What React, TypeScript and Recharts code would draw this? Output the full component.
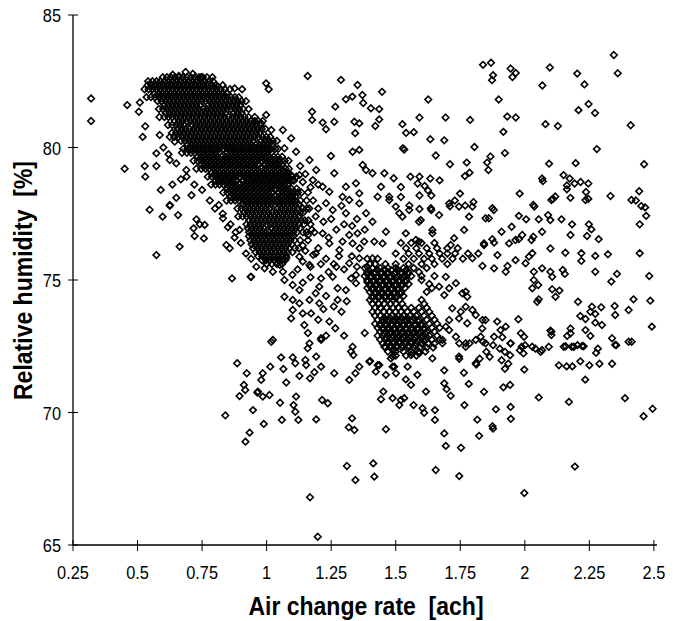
import React from "react";
import { ScatterChart, Scatter, XAxis, YAxis } from "recharts";

// axis ticks
const xTicks = [0.25, 0.5, 0.75, 1, 1.25, 1.5, 1.75, 2, 2.25, 2.5];
const yTicks = [65, 70, 75, 80, 85];

// dense diagonal band: humidity level -> air change rates read along that row
const bandRows: [number, number[]][] = [
  [82.65, [0.598, 0.614, 0.63, 0.645, 0.66, 0.676, 0.691, 0.707, 0.722, 0.738, 0.753, 0.769, 0.79]],
  [82.5, [0.541, 0.558, 0.574, 0.589, 0.605, 0.62, 0.636, 0.651, 0.667, 0.682, 0.698, 0.713, 0.729, 0.744, 0.76, 0.776, 0.792]],
  [82.35, [0.539, 0.555, 0.57, 0.586, 0.601, 0.617, 0.632, 0.648, 0.663, 0.679, 0.694, 0.71, 0.725, 0.741, 0.756, 0.772, 0.788, 0.804, 0.83]],
  [82.2, [0.527, 0.543, 0.558, 0.574, 0.589, 0.605, 0.62, 0.636, 0.651, 0.667, 0.682, 0.698, 0.713, 0.729, 0.744, 0.76, 0.775, 0.791, 0.806, 0.822, 0.838, 0.858]],
  [82.05, [0.565, 0.581, 0.596, 0.612, 0.627, 0.643, 0.658, 0.674, 0.689, 0.705, 0.72, 0.736, 0.751, 0.767, 0.782, 0.798, 0.813, 0.829, 0.845]],
  [81.9, [0.535, 0.552, 0.567, 0.583, 0.598, 0.614, 0.629, 0.645, 0.66, 0.676, 0.691, 0.707, 0.722, 0.738, 0.753, 0.769, 0.784, 0.8, 0.815, 0.831, 0.846, 0.862, 0.877, 0.892]],
  [81.75, [0.578, 0.594, 0.609, 0.625, 0.64, 0.656, 0.671, 0.687, 0.702, 0.718, 0.733, 0.749, 0.764, 0.78, 0.795, 0.811, 0.826, 0.842, 0.857, 0.873, 0.888, 0.903, 0.92]],
  [81.6, [0.603, 0.619, 0.634, 0.65, 0.665, 0.681, 0.696, 0.712, 0.727, 0.743, 0.774, 0.789, 0.805, 0.82, 0.836, 0.851, 0.867, 0.882, 0.898]],
  [81.45, [0.583, 0.599, 0.614, 0.63, 0.645, 0.661, 0.676, 0.692, 0.707, 0.723, 0.738, 0.754, 0.769, 0.785, 0.8, 0.816, 0.831, 0.847, 0.862, 0.878, 0.893, 0.909, 0.93]],
  [81.3, [0.609, 0.624, 0.64, 0.655, 0.671, 0.686, 0.702, 0.717, 0.733, 0.748, 0.764, 0.779, 0.795, 0.81, 0.826, 0.841, 0.872, 0.888, 0.903]],
  [81.15, [0.585, 0.604, 0.62, 0.635, 0.651, 0.666, 0.682, 0.697, 0.713, 0.728, 0.744, 0.759, 0.775, 0.79, 0.806, 0.821, 0.837, 0.852, 0.868, 0.883, 0.899, 0.914, 0.93, 0.954]],
  [81.0, [0.644, 0.66, 0.675, 0.691, 0.706, 0.722, 0.737, 0.753, 0.768, 0.784, 0.799, 0.815, 0.83, 0.846, 0.861, 0.877, 0.892, 0.908, 0.923, 0.939, 0.954, 0.968, 0.985]],
  [80.85, [0.618, 0.634, 0.649, 0.665, 0.68, 0.711, 0.727, 0.742, 0.758, 0.773, 0.789, 0.804, 0.82, 0.835, 0.851, 0.866, 0.882, 0.897, 0.913, 0.928, 0.944, 0.959, 0.975]],
  [80.7, [0.655, 0.671, 0.686, 0.702, 0.717, 0.733, 0.748, 0.764, 0.779, 0.795, 0.81, 0.826, 0.841, 0.857, 0.872, 0.888, 0.903, 0.919, 0.934, 0.95, 0.965, 0.981, 0.995]],
  [80.55, [0.633, 0.649, 0.664, 0.68, 0.695, 0.711, 0.726, 0.742, 0.757, 0.773, 0.788, 0.804, 0.819, 0.835, 0.85, 0.866, 0.881, 0.897, 0.912, 0.928, 0.943, 0.959, 0.974]],
  [80.4, [0.625, 0.642, 0.658, 0.673, 0.689, 0.704, 0.72, 0.735, 0.751, 0.766, 0.782, 0.797, 0.813, 0.828, 0.844, 0.859, 0.875, 0.89, 0.906, 0.921, 0.937, 0.952, 0.968, 0.983, 0.999, 1.014]],
  [80.25, [0.669, 0.684, 0.7, 0.715, 0.731, 0.746, 0.762, 0.777, 0.793, 0.808, 0.824, 0.839, 0.855, 0.87, 0.886, 0.901, 0.917, 0.932, 0.948, 0.979, 0.994, 1.01, 1.024, 1.04]],
  [80.1, [0.694, 0.71, 0.725, 0.741, 0.756, 0.772, 0.787, 0.803, 0.818, 0.834, 0.849, 0.865, 0.88, 0.896, 0.911, 0.927, 0.942, 0.958, 0.973, 0.989, 1.004, 1.02]],
  [79.95, [0.677, 0.693, 0.708, 0.724, 0.739, 0.755, 0.77, 0.786, 0.801, 0.817, 0.832, 0.848, 0.863, 0.879, 0.894, 0.91, 0.925, 0.941, 0.956, 0.972, 0.987, 1.003, 1.018, 1.034, 1.045]],
  [79.8, [0.672, 0.691, 0.707, 0.722, 0.738, 0.753, 0.769, 0.784, 0.8, 0.815, 0.846, 0.862, 0.877, 0.893, 0.908, 0.924, 0.939, 0.955, 0.97, 0.986, 1.001, 1.017]],
  [79.65, [0.733, 0.749, 0.764, 0.78, 0.795, 0.811, 0.826, 0.842, 0.857, 0.873, 0.888, 0.904, 0.919, 0.935, 0.95, 0.966, 0.981, 0.997, 1.012, 1.028, 1.043, 1.06]],
  [79.5, [0.717, 0.733, 0.748, 0.764, 0.779, 0.795, 0.81, 0.826, 0.841, 0.857, 0.872, 0.888, 0.903, 0.919, 0.934, 0.95, 0.965, 0.981, 0.996, 1.012, 1.027, 1.043, 1.058, 1.07, 1.085]],
  [79.35, [0.748, 0.763, 0.779, 0.794, 0.81, 0.825, 0.841, 0.856, 0.872, 0.887, 0.903, 0.918, 0.934, 0.949, 0.965, 0.996, 1.011, 1.027, 1.042, 1.058]],
  [79.2, [0.728, 0.747, 0.763, 0.778, 0.794, 0.809, 0.825, 0.84, 0.856, 0.871, 0.887, 0.902, 0.918, 0.933, 0.949, 0.964, 0.98, 0.995, 1.011, 1.026, 1.042, 1.057, 1.073, 1.086]],
  [79.05, [0.788, 0.804, 0.819, 0.835, 0.85, 0.866, 0.881, 0.897, 0.912, 0.928, 0.943, 0.959, 0.974, 0.99, 1.005, 1.021, 1.036, 1.052, 1.067, 1.083]],
  [78.9, [0.772, 0.788, 0.803, 0.819, 0.834, 0.85, 0.865, 0.881, 0.896, 0.912, 0.927, 0.943, 0.958, 0.974, 0.989, 1.005, 1.02, 1.036, 1.051, 1.067, 1.082, 1.1, 1.115]],
  [78.75, [0.803, 0.818, 0.834, 0.849, 0.865, 0.88, 0.911, 0.927, 0.942, 0.958, 0.973, 0.989, 1.004, 1.02, 1.035, 1.051, 1.066, 1.082, 1.097, 1.106]],
  [78.6, [0.785, 0.802, 0.818, 0.833, 0.849, 0.864, 0.88, 0.895, 0.911, 0.926, 0.942, 0.957, 0.973, 0.988, 1.004, 1.019, 1.035, 1.05, 1.066, 1.081]],
  [78.45, [0.848, 0.864, 0.879, 0.895, 0.91, 0.926, 0.941, 0.957, 0.972, 0.988, 1.003, 1.019, 1.034, 1.05, 1.065, 1.081, 1.096, 1.116]],
  [78.3, [0.832, 0.848, 0.863, 0.879, 0.894, 0.91, 0.925, 0.941, 0.956, 0.972, 0.987, 1.003, 1.018, 1.049, 1.065, 1.08, 1.096, 1.111, 1.121, 1.135]],
  [78.15, [0.863, 0.878, 0.894, 0.909, 0.925, 0.94, 0.956, 0.971, 0.987, 1.002, 1.018, 1.033, 1.049, 1.064, 1.08, 1.095, 1.111]],
  [78.0, [0.845, 0.862, 0.878, 0.893, 0.909, 0.924, 0.94, 0.955, 0.971, 0.986, 1.002, 1.017, 1.033, 1.048, 1.064, 1.079, 1.095, 1.11, 1.131]],
  [77.85, [0.908, 0.924, 0.939, 0.955, 0.97, 0.986, 1.001, 1.017, 1.032, 1.048, 1.063, 1.079, 1.094, 1.11, 1.125]],
  [77.7, [0.887, 0.903, 0.918, 0.934, 0.949, 0.965, 0.98, 0.996, 1.011, 1.042, 1.058, 1.073, 1.089, 1.104, 1.12, 1.14, 1.155]],
  [77.55, [0.913, 0.928, 0.944, 0.959, 0.975, 0.99, 1.006, 1.021, 1.037, 1.052, 1.068, 1.083, 1.099, 1.114, 1.13, 1.142]],
  [77.4, [0.89, 0.907, 0.923, 0.938, 0.954, 0.969, 0.985, 1.0, 1.016, 1.031, 1.047, 1.062, 1.078, 1.093, 1.109, 1.124]],
  [77.25, [0.933, 0.948, 0.964, 0.979, 0.995, 1.01, 1.026, 1.041, 1.057, 1.072, 1.088, 1.103, 1.119, 1.134, 1.148, 1.162]],
  [77.1, [0.922, 0.938, 0.953, 0.969, 0.984, 1.0, 1.015, 1.031, 1.046, 1.062, 1.077, 1.093, 1.108, 1.124, 1.145]],
  [76.95, [0.927, 0.943, 0.958, 0.974, 0.989, 1.02, 1.036, 1.051, 1.067, 1.082, 1.098, 1.113, 1.129]],
  [76.8, [0.932, 0.948, 0.963, 0.979, 0.994, 1.01, 1.025, 1.041, 1.056, 1.072, 1.087, 1.103, 1.118, 1.14, 1.155]],
  [76.65, [0.932, 0.948, 0.963, 0.979, 0.994, 1.01, 1.025, 1.041, 1.056, 1.072, 1.087, 1.103]],
  [76.5, [0.937, 0.953, 0.968, 0.984, 0.999, 1.015, 1.03, 1.046, 1.061, 1.077, 1.092, 1.108, 1.13]],
  [76.35, [0.942, 0.958, 0.973, 0.989, 1.004, 1.02, 1.035, 1.051, 1.066, 1.082, 1.097]],
  [76.2, [0.947, 0.963, 0.978, 0.994, 1.009, 1.025, 1.04, 1.056, 1.071, 1.087, 1.11, 1.125]],
  [76.05, [0.957, 0.973, 0.988, 1.004, 1.019, 1.035, 1.05, 1.066, 1.081, 1.1]],
  [75.9, [0.967, 0.983, 0.998, 1.014, 1.029, 1.045, 1.06, 1.076]],
  [75.75, [0.982, 0.998, 1.013, 1.029, 1.044, 1.06, 1.072]],
  [75.6, [1.0, 1.02, 1.04, 1.06]],
];

// second cluster around 1.4 - 1.7 ach
const clusterRows: [number, number[]][] = [
  [76.4, [1.52, 1.56, 1.6, 1.65]],
  [76.2, [1.54, 1.58, 1.62, 1.66, 1.7, 1.74]],
  [76.0, [1.5, 1.55, 1.59, 1.63, 1.67, 1.7, 1.73, 1.78, 1.82]],
  [75.8, [1.39, 1.43, 1.53, 1.57, 1.61, 1.64, 1.68, 1.72, 1.76]],
  [75.6, [1.4, 1.42, 1.46, 1.5, 1.55, 1.6, 1.65, 1.7]],
  [75.45, [1.38, 1.41, 1.44, 1.47, 1.5, 1.53, 1.57, 1.62]],
  [75.375, [1.395, 1.43, 1.458, 1.485, 1.51, 1.54]],
  [75.3, [1.39, 1.42, 1.445, 1.47, 1.5, 1.52, 1.55, 1.59]],
  [75.225, [1.39, 1.418, 1.443, 1.468, 1.495, 1.522, 1.548]],
  [75.15, [1.38, 1.405, 1.43, 1.455, 1.48, 1.51, 1.535, 1.56, 1.6, 1.65]],
  [75.075, [1.403, 1.428, 1.453, 1.478, 1.503, 1.528]],
  [75.0, [1.39, 1.415, 1.44, 1.465, 1.49, 1.515, 1.54, 1.6]],
  [74.925, [1.39, 1.413, 1.438, 1.463, 1.488, 1.513, 1.538]],
  [74.85, [1.4, 1.425, 1.45, 1.475, 1.5, 1.525, 1.55, 1.63]],
  [74.775, [1.4, 1.423, 1.448, 1.473, 1.498, 1.523]],
  [74.7, [1.39, 1.41, 1.435, 1.46, 1.485, 1.51, 1.535, 1.64]],
  [74.625, [1.41, 1.433, 1.458, 1.483, 1.508]],
  [74.55, [1.4, 1.42, 1.445, 1.47, 1.495, 1.52, 1.62]],
  [74.475, [1.42, 1.448, 1.47, 1.493, 1.518]],
  [74.4, [1.41, 1.435, 1.46, 1.48, 1.505, 1.53]],
  [74.325, [1.41, 1.433, 1.458, 1.48, 1.5]],
  [74.25, [1.4, 1.42, 1.445, 1.47, 1.49, 1.515, 1.6]],
  [74.1, [1.41, 1.435, 1.455, 1.48, 1.5, 1.525, 1.61]],
  [73.95, [1.42, 1.44, 1.465, 1.49, 1.51, 1.535, 1.56, 1.59, 1.62]],
  [73.8, [1.41, 1.43, 1.455, 1.475, 1.5, 1.52, 1.545, 1.57, 1.6, 1.63]],
  [73.65, [1.42, 1.44, 1.465, 1.485, 1.51, 1.53, 1.555, 1.58, 1.61, 1.64]],
  [73.575, [1.455, 1.478, 1.5, 1.522, 1.545, 1.57]],
  [73.5, [1.43, 1.45, 1.475, 1.495, 1.52, 1.54, 1.565, 1.59, 1.62, 1.65]],
  [73.425, [1.45, 1.472, 1.495, 1.517, 1.54, 1.562, 1.588]],
  [73.35, [1.42, 1.44, 1.46, 1.485, 1.505, 1.53, 1.55, 1.575, 1.6, 1.63, 1.66]],
  [73.275, [1.44, 1.462, 1.485, 1.507, 1.53, 1.552, 1.575, 1.6]],
  [73.2, [1.43, 1.45, 1.47, 1.495, 1.515, 1.54, 1.56, 1.585, 1.61, 1.64, 1.67]],
  [73.125, [1.45, 1.472, 1.495, 1.517, 1.54, 1.563, 1.585, 1.61]],
  [73.05, [1.44, 1.46, 1.48, 1.505, 1.525, 1.55, 1.57, 1.595, 1.62, 1.65]],
  [72.975, [1.455, 1.478, 1.5, 1.523, 1.545, 1.568, 1.59, 1.615]],
  [72.9, [1.43, 1.45, 1.47, 1.49, 1.515, 1.535, 1.56, 1.58, 1.605, 1.63, 1.66]],
  [72.825, [1.462, 1.485, 1.508, 1.53, 1.553, 1.575, 1.598, 1.622]],
  [72.75, [1.44, 1.46, 1.48, 1.5, 1.525, 1.545, 1.57, 1.59, 1.615, 1.64, 1.67]],
  [72.675, [1.47, 1.492, 1.515, 1.538, 1.56, 1.585, 1.61]],
  [72.6, [1.45, 1.47, 1.49, 1.515, 1.535, 1.56, 1.58, 1.6, 1.625, 1.65]],
  [72.525, [1.48, 1.505, 1.528, 1.55, 1.575]],
  [72.45, [1.46, 1.48, 1.505, 1.525, 1.55, 1.57, 1.595, 1.62, 1.645]],
  [72.3, [1.47, 1.5, 1.53, 1.56, 1.59, 1.615]],
  [72.15, [1.5, 1.54, 1.58]],
];

// low ventilation side, left of the band
const leftPoints: [number, number][] = [
  [0.32, 81.85], [0.32, 81.0], [0.46, 81.6], [0.45, 79.2], [0.53, 80.8], [0.52, 80.4],
  [0.528, 79.3], [0.53, 78.9], [0.573, 79.3], [0.59, 78.4], [0.635, 78.6], [0.65, 78.1],
  [0.668, 78.8], [0.709, 78.2], [0.625, 77.8], [0.547, 77.65], [0.597, 77.39], [0.625, 77.83],
  [0.657, 77.45], [0.728, 77.29], [0.76, 77.08], [0.741, 77.1], [0.717, 76.95], [0.721, 76.66],
  [0.757, 76.57], [0.663, 76.26], [0.573, 75.94], [0.831, 77.33], [0.815, 77.83], [0.85, 76.99],
  [0.876, 76.6], [0.844, 76.32], [0.857, 76.2], [0.866, 75.06], [0.938, 75.12], [0.96, 75.5],
  [0.895, 76.89], [0.505, 81.35], [0.509, 81.7], [0.644, 80.22], [0.586, 80.47], [0.573, 79.78],
  [0.625, 79.53], [0.689, 79.15], [0.6, 80.0], [0.62, 79.75], [0.65, 79.4], [0.69, 78.9],
  [0.72, 78.6], [0.75, 78.4], [0.78, 78.0], [0.8, 77.7], [0.83, 77.5], [0.86, 77.1],
  [0.88, 76.8], [0.9, 76.4], [0.92, 76.0], [0.94, 75.8], [0.636, 82.75], [0.66, 82.7],
  [0.686, 82.85], [0.714, 82.78], [0.747, 82.65],
];

// upper sparse area above and right of the band
const upperPoints: [number, number][] = [
  [1.159, 82.7], [1.288, 82.55], [1.352, 82.36], [1.447, 82.1], [1.371, 81.98], [1.307, 81.82],
  [1.332, 81.92], [1.374, 81.68], [1.404, 81.48], [1.436, 81.45], [1.266, 81.54], [1.176, 81.35],
  [1.176, 81.04], [1.217, 80.94], [1.23, 80.69], [1.262, 80.97], [1.34, 80.97], [1.359, 80.91],
  [1.421, 80.81], [1.436, 81.06], [1.343, 80.54], [1.333, 79.84], [1.359, 79.91], [1.249, 79.68],
  [0.998, 82.42], [1.008, 82.2], [0.905, 82.2], [0.876, 82.23], [0.811, 82.3], [0.747, 82.65],
  [0.998, 81.23], [0.979, 80.91], [1.018, 80.66], [1.063, 80.66], [1.095, 80.35], [1.069, 79.97],
  [1.114, 79.84], [1.166, 79.53], [1.192, 79.15], [1.262, 79.03], [1.372, 79.34], [1.385, 79.15],
  [1.41, 79.03], [1.456, 79.03], [1.492, 78.84], [1.443, 78.52], [1.43, 78.14], [1.475, 78.14],
  [1.5, 77.77], [1.307, 78.52], [1.346, 78.65], [1.359, 78.27], [1.294, 78.14], [1.243, 78.33],
  [1.217, 78.52], [1.179, 78.77], [1.127, 78.96], [1.095, 78.96], [1.13, 79.3], [1.15, 79.0],
  [1.14, 78.7], [1.17, 78.5], [1.155, 78.0],
];

// middle zone between the two clusters
const middlePoints: [number, number][] = [
  [0.94, 75.12], [1.024, 75.31], [0.992, 75.44], [1.063, 75.31], [1.069, 75.0], [1.101, 74.81],
  [1.127, 74.62], [1.069, 74.37], [1.101, 74.25], [1.127, 74.12], [1.101, 73.87], [1.095, 73.55],
  [1.14, 73.74], [1.166, 74.25], [1.204, 74.12], [1.172, 73.74], [1.146, 73.3], [1.243, 73.43],
  [1.266, 73.18], [1.275, 74.25], [1.307, 74.62], [1.204, 74.75], [1.211, 75.06], [1.256, 75.12],
  [1.166, 75.57], [1.17, 75.5], [1.127, 75.88], [1.076, 75.82], [1.051, 75.57], [1.024, 72.74],
  [1.211, 72.8], [1.333, 72.48], [1.166, 72.61], [1.243, 76.38], [1.282, 76.13], [1.294, 76.45],
  [1.333, 76.38], [1.331, 77.04], [1.352, 76.76], [1.217, 76.76], [1.256, 77.64], [1.307, 77.52],
  [1.32, 78.02], [1.359, 77.89], [1.385, 77.52], [1.41, 77.2], [1.378, 76.45], [1.417, 76.45],
  [1.359, 75.82], [1.41, 75.82], [1.32, 75.63], [1.346, 75.19], [1.346, 74.88], [1.275, 74.69],
  [1.462, 76.82], [1.449, 76.38], [1.475, 78.02], [1.514, 77.52], [1.526, 77.39], [1.552, 77.64],
  [1.539, 76.76], [1.578, 76.51], [1.636, 77.71], [1.668, 77.45], [1.597, 77.26], [1.642, 76.89],
  [1.16, 78.3], [1.18, 78.0], [1.165, 77.7], [1.19, 77.4], [1.17, 77.1], [1.185, 76.8],
  [1.16, 76.5], [1.2, 76.2], [1.15, 76.1], [1.2, 78.6], [1.23, 77.9], [1.22, 77.2], [1.24, 76.6],
  [1.25, 77.3], [1.27, 76.9], [1.29, 77.8], [1.3, 77.1], [1.32, 76.7], [1.35, 77.3], [1.28, 75.9],
  [1.3, 75.4], [1.33, 75.9], [1.26, 75.6], [1.23, 75.8], [1.38, 76.9], [1.36, 76.2], [1.39, 75.5],
  [1.2, 77.7], [1.175, 76.9], [1.16, 76.7], [1.19, 76.0], [1.14, 75.7], [1.12, 75.4], [1.1, 75.2],
  [1.59, 77.2], [1.642, 76.76], [1.59, 76.45], [1.842, 76.32], [1.327, 75.06], [1.668, 74.75],
  [1.771, 74.56], [1.848, 73.49], [1.752, 73.8], [1.707, 73.11], [1.771, 72.48], [1.81, 72.74],
  [1.848, 72.61], [1.745, 72.11], [1.81, 71.86], [1.398, 71.92], [1.436, 71.79], [1.488, 71.73],
  [1.488, 72.11], [1.559, 72.17], [1.59, 72.23], [1.642, 72.04], [1.14, 76.3], [1.18, 75.95],
  [1.21, 75.6], [1.24, 75.3], [1.17, 75.1], [1.14, 74.9], [1.19, 74.5], [1.23, 74.4], [1.26, 74.0],
  [1.22, 73.9], [1.29, 73.8], [1.31, 74.2], [1.27, 75.5], [1.35, 75.5], [1.2, 73.5], [1.16, 73.0],
  [1.23, 72.9], [1.3, 72.9], [1.38, 73.0],
];

// high ventilation side, upper right
const rightUpperPoints: [number, number][] = [
  [1.838, 83.12], [1.869, 83.2], [1.945, 82.98], [1.965, 82.81], [1.877, 82.73], [1.873, 82.54],
  [1.952, 82.66], [2.097, 83.02], [2.203, 82.79], [2.36, 82.8], [2.345, 83.49], [2.068, 82.34],
  [2.231, 82.38], [1.626, 81.81], [1.899, 81.81], [2.247, 81.64], [2.208, 81.41], [2.272, 81.3],
  [1.592, 81.13], [1.693, 81.13], [1.788, 81.04], [1.932, 81.17], [1.965, 81.13], [2.08, 80.88],
  [2.128, 80.81], [2.41, 80.84], [1.526, 80.88], [1.54, 80.55], [1.57, 80.58], [1.917, 80.59],
  [1.634, 80.31], [1.688, 80.27], [1.533, 79.92], [1.528, 79.97], [1.805, 80.02], [2.279, 79.94],
  [1.655, 79.7], [1.923, 79.79], [1.867, 79.66], [1.71, 79.37], [1.775, 79.43], [1.854, 79.43],
  [1.859, 79.15], [1.786, 79.05], [1.768, 78.92], [2.094, 79.39], [2.197, 79.41], [2.462, 79.37],
  [1.557, 78.9], [1.592, 78.9], [1.634, 78.83], [1.67, 78.76], [1.585, 78.64], [1.612, 78.55],
  [1.625, 78.38], [1.638, 78.19], [1.592, 78.19], [1.52, 78.51], [1.52, 78.13], [1.553, 77.81],
  [2.067, 78.83], [2.07, 78.73], [2.15, 78.96], [2.174, 78.83], [2.163, 78.57], [2.193, 78.64],
  [2.216, 78.7], [2.246, 78.64], [2.163, 78.42], [2.237, 78.32], [2.177, 78.1], [2.246, 78.06],
  [2.332, 78.17], [2.443, 78.35], [2.43, 78.0], [2.466, 77.74], [1.98, 78.26], [2.037, 77.77],
  [2.109, 78.06], [2.118, 78.15], [1.71, 77.78], [1.729, 78.0], [1.749, 78.26], [1.769, 77.81],
  [1.801, 77.94], [1.88, 77.64], [1.638, 77.64], [1.592, 77.68],
];

// high ventilation side, middle right
const rightMidPoints: [number, number][] = [
  [1.707, 77.89], [1.745, 77.77], [1.797, 77.77], [1.874, 77.71], [2.033, 77.83], [2.103, 78.02],
  [2.235, 78.02], [2.413, 78.02], [2.451, 77.79], [2.47, 77.42], [2.445, 77.1], [1.784, 77.39],
  [1.848, 77.33], [1.861, 77.33], [1.977, 77.42], [2.005, 77.29], [2.054, 77.29], [2.09, 77.45],
  [2.099, 77.26], [2.142, 77.29], [2.183, 77.1], [2.248, 77.1], [2.258, 76.91], [2.241, 76.66],
  [2.286, 76.54], [2.177, 76.7], [2.067, 76.82], [2.033, 76.63], [2.026, 76.51], [1.99, 76.7],
  [1.977, 76.54], [1.949, 77.01], [1.91, 76.82], [1.874, 76.54], [1.881, 76.41], [1.939, 76.38],
  [1.964, 76.51], [1.842, 76.38], [1.765, 76.89], [1.726, 76.58], [1.713, 76.32], [2.099, 76.19],
  [2.157, 76.03], [2.219, 76.01], [2.219, 75.72], [2.273, 75.91], [2.322, 75.97], [2.445, 76.01],
  [2.029, 76.01], [2.016, 75.88], [1.964, 75.75], [2.003, 75.63], [1.894, 75.94], [1.836, 75.53],
  [1.797, 75.82], [1.881, 75.44], [1.933, 75.53], [1.926, 75.31], [2.035, 75.31], [2.067, 75.44],
  [2.099, 75.31], [2.106, 75.12], [2.147, 75.38], [2.155, 75.23], [2.273, 75.31], [2.335, 74.94],
  [2.357, 75.23], [2.482, 75.15], [2.035, 75.0], [2.029, 74.69], [2.052, 74.81], [2.106, 74.65],
  [2.134, 74.6], [2.119, 74.37], [2.054, 74.27], [2.048, 74.18], [2.206, 74.18], [2.26, 73.99],
  [2.296, 73.97], [2.348, 74.02], [2.35, 73.68], [2.402, 73.87], [2.421, 74.27], [2.486, 74.22],
  [2.492, 73.24], [2.254, 73.8], [2.273, 73.72], [2.215, 73.64], [2.235, 73.53], [2.299, 73.3],
  [2.273, 73.39], [2.177, 73.17], [2.177, 72.99], [2.164, 72.89], [2.099, 73.09], [2.103, 73.05],
  [2.103, 72.92], [2.235, 73.11], [2.254, 72.89], [2.151, 72.48], [2.19, 72.48], [2.222, 72.51],
  [2.338, 72.8], [2.35, 72.55], [2.402, 72.67], [1.975, 73.52], [1.985, 72.99], [1.997, 72.86],
  [1.926, 73.24], [1.906, 73.11], [1.893, 73.43], [1.835, 73.17], [1.829, 72.86], [1.881, 72.86],
  [1.913, 72.84], [1.945, 72.61], [1.988, 72.48], [2.029, 72.48], [2.093, 72.48], [1.797, 73.87],
  [1.81, 73.68], [1.771, 73.99], [1.777, 74.37], [1.758, 74.5], [1.707, 74.69], [1.733, 74.88],
  [1.694, 75.12], [1.688, 74.43], [1.719, 73.93], [1.707, 73.49], [1.745, 73.55], [1.777, 73.37],
  [1.694, 73.24], [1.733, 72.86], [1.771, 72.61], [1.836, 73.49], [1.681, 72.74],
];

// lower part of the plot
const lowerPoints: [number, number][] = [
  [1.681, 72.61], [1.746, 72.61], [1.786, 72.61], [1.838, 72.67], [1.877, 72.54], [1.903, 72.41],
  [1.923, 72.29], [1.943, 72.16], [1.945, 72.61], [1.91, 71.97], [1.936, 71.84], [1.923, 71.65],
  [1.864, 72.1], [1.825, 72.03], [1.812, 71.81], [1.851, 72.29], [1.981, 72.35], [2.001, 72.54],
  [1.995, 72.23], [2.041, 72.41], [2.061, 72.29], [2.067, 72.35], [1.998, 71.62], [2.158, 72.5],
  [2.182, 72.48], [2.204, 72.54], [2.228, 72.5], [2.276, 72.25], [2.283, 72.41], [2.354, 72.54],
  [2.414, 72.67], [2.132, 71.78], [2.162, 71.74], [2.184, 71.74], [2.215, 71.93], [2.25, 71.78],
  [2.289, 71.84], [2.338, 71.84], [2.234, 71.24], [1.746, 72.03], [1.688, 71.59], [1.764, 71.5],
  [1.783, 71.08], [1.688, 71.1], [1.697, 70.88], [1.713, 70.63], [1.842, 70.78], [1.917, 70.95],
  [1.943, 71.04], [2.054, 70.57], [1.766, 70.28], [1.888, 70.12], [1.945, 70.21], [1.946, 69.76],
  [1.816, 69.73], [1.875, 69.48], [1.877, 69.39], [1.823, 69.12], [2.171, 70.4], [2.388, 70.54],
  [2.46, 69.86], [2.495, 70.14], [1.753, 68.67], [2.194, 67.96], [1.746, 67.6], [1.998, 66.96],
  [1.018, 72.67], [1.211, 72.74], [1.159, 72.42], [1.056, 72.08], [1.101, 72.08], [1.111, 71.86],
  [1.15, 71.98], [1.153, 71.79], [1.192, 72.11], [1.211, 71.73], [1.014, 71.73], [1.065, 71.64],
  [0.985, 71.48], [0.979, 71.23], [1.076, 71.13], [1.127, 71.38], [1.168, 71.29], [1.185, 71.52],
  [1.262, 71.48], [0.966, 70.79], [0.985, 70.6], [1.011, 70.66], [1.052, 70.37], [1.114, 70.6],
  [1.104, 70.28], [1.111, 70.03], [1.123, 69.72], [1.059, 69.72], [0.947, 70.09], [0.989, 69.57],
  [1.192, 69.74], [1.215, 70.47], [1.237, 70.35], [0.934, 69.24], [1.327, 72.3], [1.336, 72.17],
  [1.359, 71.73], [1.344, 71.48], [1.32, 71.23], [1.401, 71.94], [1.43, 71.79], [1.423, 71.54],
  [1.456, 72.48], [1.488, 72.36], [1.481, 72.04], [1.494, 71.73], [1.501, 71.48], [1.462, 71.42],
  [1.546, 71.73], [1.565, 72.23], [1.584, 71.42], [1.539, 71.25], [1.559, 71.04], [1.452, 70.79],
  [1.443, 70.5], [1.488, 70.54], [1.514, 70.28], [1.52, 70.47], [1.533, 70.54], [1.569, 70.28],
  [1.617, 70.79], [1.604, 70.16], [1.61, 69.99], [1.652, 70.09], [1.652, 69.72], [1.688, 69.21],
  [1.694, 68.74], [1.331, 69.78], [1.318, 69.44], [1.34, 69.34], [1.462, 69.37], [1.311, 67.98],
  [1.344, 67.45], [1.413, 68.08], [1.417, 67.58], [1.655, 67.83], [1.168, 66.8], [1.198, 65.31],
  [0.886, 71.86], [0.923, 71.48], [0.912, 71.04], [0.917, 70.85], [0.895, 70.62], [0.964, 70.75],
  [0.84, 69.89], [0.918, 68.9],
];

const fromRows = (rows: [number, number[]][]) =>
  rows.flatMap(([y, xs]) => xs.map((x) => ({ x, y })));
const fromPairs = (pairs: [number, number][]) => pairs.map(([x, y]) => ({ x, y }));

const points = [
  ...fromRows(bandRows),
  ...fromRows(clusterRows),
  ...fromPairs(leftPoints),
  ...fromPairs(upperPoints),
  ...fromPairs(middlePoints),
  ...fromPairs(rightUpperPoints),
  ...fromPairs(rightMidPoints),
  ...fromPairs(lowerPoints),
];

const FONT = "'Liberation Sans', Arial, Helvetica, sans-serif";
const PLOT_LEFT = 73;
const PLOT_BOTTOM = 545;

const Diamond = (props: any) => {
  const { cx, cy } = props;
  const r = 3.3;
  return (
    <path
      d={`M${cx},${cy - r}L${cx + r},${cy}L${cx},${cy + r}L${cx - r},${cy}Z`}
      fill="none"
      stroke="#000"
      strokeWidth={1.6}
    />
  );
};

const XTick = (props: any) => {
  const { x, payload } = props;
  return (
    <g>
      <line x1={x} x2={x} y1={PLOT_BOTTOM - 5} y2={PLOT_BOTTOM + 6} stroke="#000" strokeWidth={1} />
      <g transform={`translate(${x},${PLOT_BOTTOM + 34})`}>
        <text x={0} y={0} textAnchor="middle" fontSize={19} fontFamily={FONT} fill="#000" transform="scale(0.86,1)">
          {String(payload.value)}
        </text>
      </g>
    </g>
  );
};

const YTick = (props: any) => {
  const { y, payload } = props;
  return (
    <g>
      <line x1={PLOT_LEFT - 5} x2={PLOT_LEFT + 5} y1={y} y2={y} stroke="#000" strokeWidth={1} />
      <g transform={`translate(${PLOT_LEFT - 12},${y + 7})`}>
        <text x={0} y={0} textAnchor="end" fontSize={19} fontFamily={FONT} fill="#000" transform="scale(0.86,1)">
          {String(payload.value)}
        </text>
      </g>
    </g>
  );
};

export default function App() {
  return (
    <div style={{ position: "relative", width: 674, height: 621, margin: "-8px 0 0 -8px" }}>
      <ScatterChart width={674} height={621} margin={{ top: 15, right: 17, bottom: 0, left: 0 }}>
        <XAxis
          type="number"
          dataKey="x"
          domain={[0.25, 2.512]}
          ticks={xTicks}
          interval={0}
          allowDataOverflow
          height={76}
          tickLine={false}
          axisLine={{ stroke: "#000", strokeWidth: 1.3 }}
          tick={<XTick />}
        />
        <YAxis
          type="number"
          dataKey="y"
          domain={[65, 85]}
          ticks={yTicks}
          interval={0}
          allowDataOverflow
          width={73}
          tickLine={false}
          axisLine={{ stroke: "#000", strokeWidth: 1.3 }}
          tick={<YTick />}
        />
        <XAxis
          xAxisId="top"
          orientation="top"
          type="number"
          domain={[0.25, 2.512]}
          height={0}
          tick={false}
          tickLine={false}
          axisLine={{ stroke: "#000", strokeWidth: 1.3 }}
        />
        <YAxis
          yAxisId="right"
          orientation="right"
          type="number"
          domain={[65, 85]}
          width={0}
          tick={false}
          tickLine={false}
          axisLine={{ stroke: "#000", strokeWidth: 1.3 }}
        />
        <Scatter data={points} shape={<Diamond />} isAnimationActive={false} />
      </ScatterChart>
      <div
        style={{
          position: "absolute",
          left: 166,
          top: 594,
          width: 400,
          textAlign: "center",
          fontFamily: FONT,
          fontWeight: "bold",
          fontSize: 25,
          lineHeight: "25px",
          whiteSpace: "pre",
          transform: "scaleX(0.92)",
        }}
      >
        Air change rate  [ach]
      </div>
      <div
        style={{
          position: "absolute",
          left: 23 - 150,
          top: 280 - 12,
          width: 300,
          height: 25,
          textAlign: "center",
          fontFamily: FONT,
          fontWeight: "bold",
          fontSize: 25,
          lineHeight: "25px",
          whiteSpace: "pre",
          transform: "rotate(-90deg) scaleX(0.92)",
        }}
      >
        Relative humidity  [%]
      </div>
    </div>
  );
}
